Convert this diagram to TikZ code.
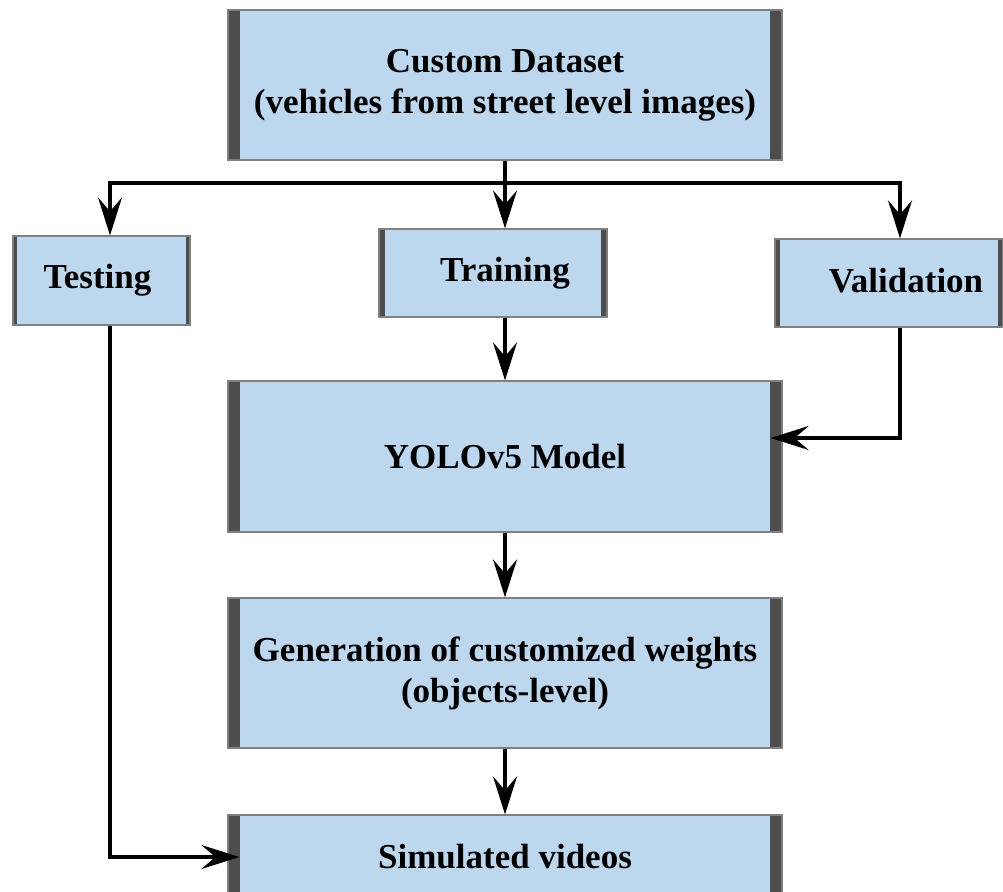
\documentclass[tikz,border=0pt]{standalone}
\usepackage{fontspec}
\setmainfont{Liberation Serif}
\usetikzlibrary{arrows.meta}

\definecolor{boxblue}{RGB}{189,215,238}
\definecolor{bardark}{RGB}{77,77,77}
\definecolor{edgegray}{RGB}{128,128,128}

\tikzset{
  barw/.store in=\barw, barw=12pt,
  box/.style={draw=edgegray, line width=1.2pt, fill=boxblue, inner sep=0pt,
    align=center, font=\fontsize{35}{41}\selectfont\bfseries,
    path picture={
      \fill[bardark] (path picture bounding box.south west) rectangle ([xshift=\barw]path picture bounding box.north west);
      \fill[bardark] (path picture bounding box.south east) rectangle ([xshift=-\barw]path picture bounding box.north east);
    }},
  conn/.style={line width=3.5pt, line join=miter,
    -{Stealth[length=38pt,width=24pt,inset=14pt]}},
}

\begin{document}
\begin{tikzpicture}[x=1pt,y=-1pt]
    \useasboundingbox (0,0) rectangle (1003,891);
    \clip (0,0) rectangle (1003,891);
    % boxes
    \node[box, minimum width=554pt, minimum height=150pt] (data) at (505,85)
      {Custom Dataset\\(vehicles from street level images)};
    \node[box, barw=4pt, minimum width=177pt, minimum height=89pt] (test) at (101.5,280.5) {\hspace*{-8pt}Testing};
    \node[box, barw=6pt, minimum width=228pt, minimum height=88pt] (train) at (493,273) {\hspace*{24pt}Training};
    \node[box, barw=5pt, minimum width=228pt, minimum height=88pt] (valid) at (889,283) {\hspace*{34pt}\raisebox{6pt}{Validation}};
    \node[box, minimum width=554pt, minimum height=151pt] (yolo) at (505,456.5) {YOLOv5 Model};
    \node[box, minimum width=554pt, minimum height=150pt] (gen) at (505,673)
      {Generation of customized weights\\(objects-level)};
    \node[box, minimum width=554pt, minimum height=84pt] (sim) at (505,857) {Simulated videos};
    % connectors
    \coordinate (split) at (505,183);
    \coordinate (tl) at (110,183);
    \coordinate (tr) at (900,183);
    \coordinate (vj) at (900,438);
    \draw[conn] (data.south) -- (split) -| (tl |- test.north);
    \draw[conn] (split) -| (tr |- valid.north);
    \draw[conn] (split) -- (train.north -| split);
    \draw[conn] (train.south -| yolo.north) -- (yolo.north);
    \draw[conn] (valid.south -| vj) |- ([xshift=-12pt]yolo.east |- vj);
    \draw[conn] (yolo.south) -- (gen.north);
    \draw[conn] (gen.south) -- (sim.north);
    \draw[conn] (test.south -| tl) |- ([xshift=12pt]sim.west);
\end{tikzpicture}
\end{document}
